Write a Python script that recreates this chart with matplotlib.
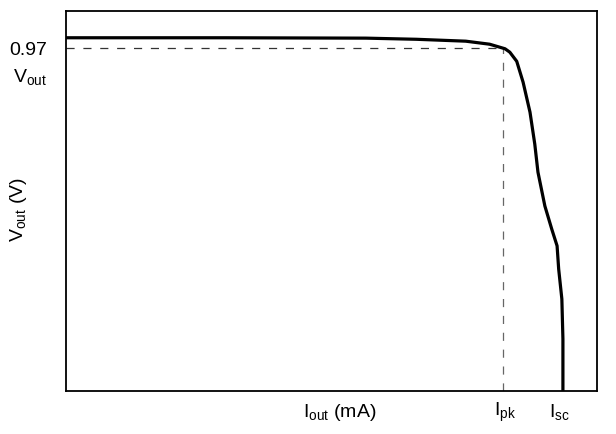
import matplotlib.pyplot as plt

plt.rcParams['font.family'] = ['Liberation Sans', 'DejaVu Sans']
plt.rcParams['mathtext.fontset'] = 'custom'
plt.rcParams['mathtext.rm'] = 'Liberation Sans'
plt.rcParams['mathtext.it'] = 'Liberation Sans'

# curve (axis fractions)
iout = [0.0, 0.30, 0.565, 0.66, 0.753, 0.798, 0.827, 0.836, 0.849, 0.861,
        0.874, 0.883, 0.889, 0.902, 0.915, 0.925, 0.928, 0.934, 0.936, 0.936]
vout = [0.930, 0.930, 0.929, 0.926, 0.921, 0.913, 0.901, 0.892, 0.868, 0.813,
        0.734, 0.650, 0.576, 0.487, 0.426, 0.382, 0.321, 0.242, 0.137, 0.0]
v_knee = 0.903
i_pk = 0.823
i_sc = 0.936

fig = plt.figure(figsize=(6.16, 4.35), dpi=100)
ax = fig.add_axes([0.107, 0.099, 0.862, 0.873])

ax.plot([0, i_pk], [v_knee, v_knee], color='#333333', lw=0.9, ls=(0, (6.5, 7)))
ax.plot([i_pk, i_pk], [0, v_knee], color='#666666', lw=0.9, ls=(0, (6.5, 7)))
ax.plot(iout, vout, color='black', lw=2.3, solid_capstyle='butt', solid_joinstyle='round')

ax.set_xlim(0, 1)
ax.set_ylim(0, 1)
ax.set_xticks([])
ax.set_yticks([])
for s in ax.spines.values():
    s.set_linewidth(1.3)

fs = 14
ax.text(-0.036, 0.900, '0.97', ha='right', va='center', fontsize=fs, transform=ax.transAxes)
ax.text(-0.036, 0.829, r'V$_{\rm out}$', ha='right', va='center', fontsize=fs, transform=ax.transAxes)
ax.text(-0.090, 0.479, r'V$_{\rm out}$ (V)', ha='center', va='center', rotation=90,
        fontsize=fs, transform=ax.transAxes)
ax.text(0.516, -0.053, r'I$_{\rm out}$ (mA)', ha='center', va='center', fontsize=fs, transform=ax.transAxes)
ax.text(0.827, -0.053, r'I$_{\rm pk}$', ha='center', va='center', fontsize=fs, transform=ax.transAxes)
ax.text(0.930, -0.053, r'I$_{\rm sc}$', ha='center', va='center', fontsize=fs, transform=ax.transAxes)

fig.savefig('out.png', dpi=100)
